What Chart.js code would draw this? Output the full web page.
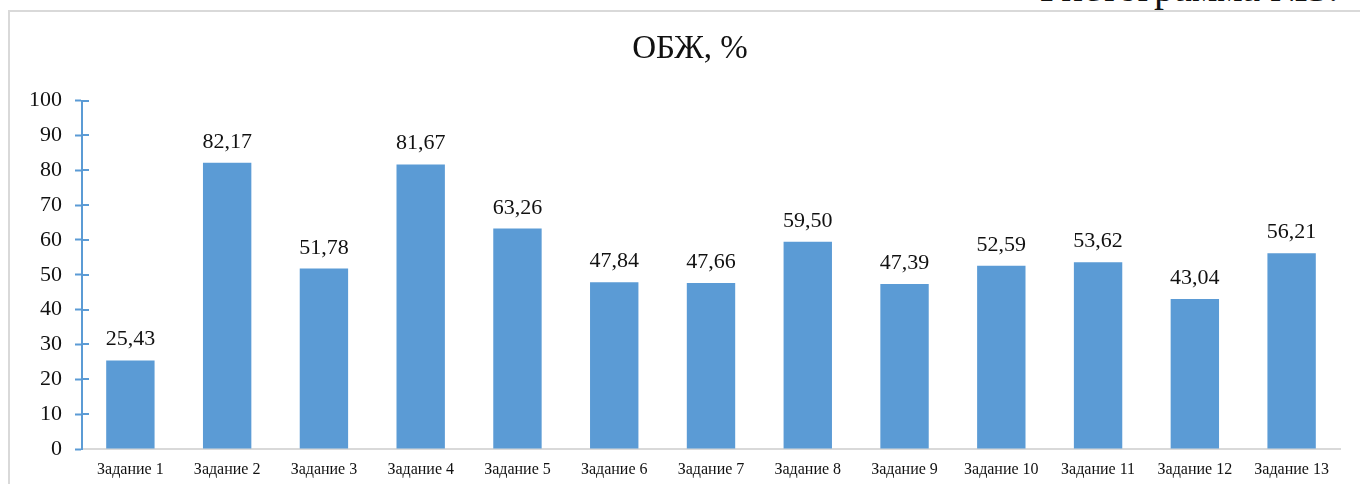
<!DOCTYPE html>
<html>
<head>
<meta charset="utf-8">
<script src="https://cdn.jsdelivr.net/npm/chart.js@4"></script>
<style>
  body { margin: 0; background: #fff; width: 1360px; height: 484px; overflow: hidden; position: relative; }
  .caption { position: absolute; left: 1040px; top: -36px; font: 40px "Liberation Serif", "Times New Roman", serif; color: #111; white-space: nowrap; }
  .frame { position: absolute; left: 8px; top: 10px; width: 1400px; height: 520px; border: 2px solid #d9d9d9; background: #fff; }
  .wrap { position: absolute; left: 0; top: 0; width: 1380px; height: 484px; }
</style>
</head>
<body>
<div class="caption">Гистограмма №3.</div>
<div class="frame"></div>
<div class="wrap"><canvas class="obzh"></canvas></div>
<script>
// categories and values
let tasks = ["Задание 1", "Задание 2", "Задание 3", "Задание 4", "Задание 5", "Задание 6", "Задание 7",
  "Задание 8", "Задание 9", "Задание 10", "Задание 11", "Задание 12", "Задание 13"];
let percents = [25.43, 82.17, 51.78, 81.67, 63.26, 47.84, 47.66, 59.50, 47.39, 52.59, 53.62, 43.04, 56.21];
let valueLabels = ["25,43", "82,17", "51,78", "81,67", "63,26", "47,84", "47,66", "59,50", "47,39", "52,59", "53,62", "43,04", "56,21"];

let serif = "'Liberation Serif', 'Times New Roman', serif";
let blue = "#5b9bd5";

// labels above the bars
const barLabels = {
  id: "barLabels",
  afterDatasetsDraw(chart) {
    let ctx = chart.ctx;
    let meta = chart.getDatasetMeta(0);
    ctx.save();
    ctx.font = "22px " + serif;
    ctx.fillStyle = "#111";
    ctx.textAlign = "center";
    ctx.textBaseline = "alphabetic";
    meta.data.forEach(function (bar, i) {
      ctx.fillText(valueLabels[i], bar.x, bar.y - 15);
    });
    ctx.restore();
  },
};

// right half of the crossing tick marks on the value axis
const crossTicks = {
  id: "crossTicks",
  afterDraw(chart) {
    let ctx = chart.ctx;
    let y = chart.scales.y;
    let x0 = chart.chartArea.left;
    ctx.save();
    ctx.strokeStyle = blue;
    ctx.lineWidth = 2;
    y.ticks.forEach(function (t) {
      if (t.value === 0) return;
      let py = Math.round(y.getPixelForValue(t.value));
      ctx.beginPath();
      ctx.moveTo(x0, py);
      ctx.lineTo(x0 + 7, py);
      ctx.stroke();
    });
    ctx.restore();
  },
};

try {
  let ctx = document.querySelector(".obzh").getContext("2d");

  new Chart(ctx, {
    type: "bar",
    data: {
      labels: tasks,
      datasets: [
        {
          label: "ОБЖ, %",
          data: percents,
          backgroundColor: blue,
          borderWidth: 0,
          barPercentage: 0.5,
          categoryPercentage: 1,
        },
      ],
    },
    options: {
      responsive: true,
      maintainAspectRatio: false,
      animation: false,
      layout: { padding: { top: 10, right: 0, bottom: 0, left: 0 } },
      plugins: {
        legend: { display: false },
        tooltip: { enabled: false },
        title: {
          display: true,
          text: "ОБЖ, %",
          color: "#111",
          font: { family: serif, size: 33, weight: "normal" },
          padding: { top: 20, bottom: 31 },
        },
      },
      scales: {
        x: {
          grid: { display: false, drawTicks: false },
          border: { display: true, color: "#d9d9d9", width: 2 },
          ticks: {
            color: "#111",
            font: { family: serif, size: 16 },
            padding: 11,
            maxRotation: 0,
            autoSkip: false,
          },
          afterFit(scale) {
            scale.height = 35;
          },
        },
        y: {
          min: 0,
          max: 100,
          grid: { drawOnChartArea: false, tickLength: 7, tickColor: blue, tickWidth: 2 },
          border: { display: true, color: blue, width: 2 },
          ticks: {
            stepSize: 10,
            color: "#111",
            font: { family: serif, size: 22 },
            padding: 13,
          },
          afterFit(scale) {
            scale.width = 82;
          },
        },
        // empty right-hand strip, keeps the title centred on the frame
        yRight: {
          position: "right",
          grid: { display: false },
          border: { display: false },
          ticks: { display: false },
          afterFit(scale) {
            scale.width = 40;
          },
        },
      },
    },
    plugins: [barLabels, crossTicks],
  });
} catch (error) {
  console.log("while creating the chart:", error);
}
</script>
</body>
</html>
